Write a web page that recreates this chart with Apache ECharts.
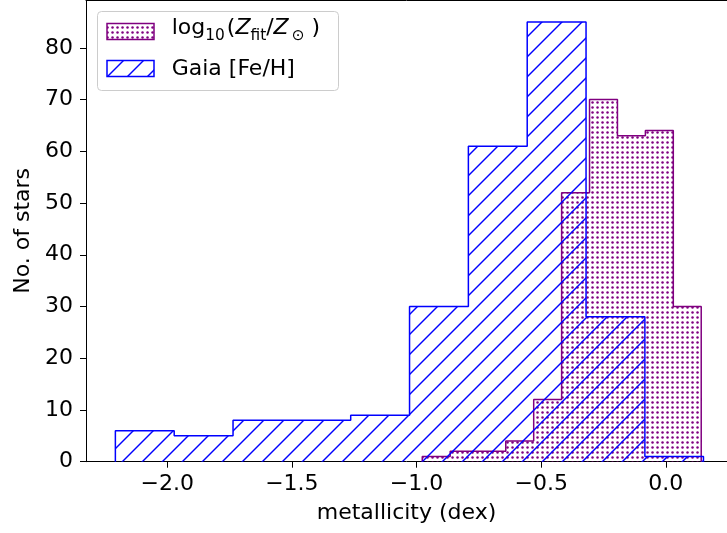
<!DOCTYPE html>
<html><head><meta charset="utf-8">
<script src="https://cdn.jsdelivr.net/npm/echarts@6/dist/echarts.min.js"></script>
<style>html,body{margin:0;padding:0;background:#fff}#c{width:727px;height:533px}</style>
</head><body><div id="c"></div>
<script>
// ---- data ----
const gaiaEdges  = [-2.208, -1.972, -1.736, -1.500, -1.264, -1.028, -0.792, -0.556, -0.320, -0.084, 0.151];
const gaiaCounts = [6, 5, 8, 8, 9, 30, 61, 85, 28, 1];
const zfitEdges  = [-0.977, -0.865, -0.753, -0.642, -0.530, -0.418, -0.306, -0.194, -0.082, 0.030, 0.142];
const zfitCounts = [1, 2, 2, 4, 12, 52, 70, 63, 64, 30];
const xTicks = [-2.0, -1.5, -1.0, -0.5, 0.0];
const yTicks = [0, 10, 20, 30, 40, 50, 60, 70, 80];
const xRange = [-2.3258, 0.2454];
const yRange = [0, 89.25];

function outline(edges, counts) {
  const pts = [[edges[0], 0]];
  for (let i = 0; i < counts.length; i++) {
    pts.push([edges[i], counts[i]], [edges[i + 1], counts[i]]);
  }
  pts.push([edges[edges.length - 1], 0]);
  return pts;
}
function dotCanvas() {
  const c = document.createElement('canvas'); c.width = 5; c.height = 5;
  const g = c.getContext('2d'); g.fillStyle = '#800080';
  g.beginPath(); g.arc(2.5, 2.5, 1.25, 0, Math.PI * 2); g.fill();
  return c;
}
function hatchCanvas() {
  const s = 20; const c = document.createElement('canvas'); c.width = s; c.height = s;
  const g = c.getContext('2d'); g.strokeStyle = '#0000ff'; g.lineWidth = 1.4;
  [-16, 4, 24, 44].forEach(k => { g.beginPath(); g.moveTo(k + 6, -6); g.lineTo(-6, k + 6); g.stroke(); });
  return c;
}
const dots = dotCanvas(), hatch = hatchCanvas();
const FONT = 'DejaVu Sans';
const FS = 22;
const SUB = 15.4;
const fmtX = v => (v < 0 ? '\u2212' + Math.abs(v).toFixed(1) : v.toFixed(1));

// legend label pieces (mathtext-like layout)
const mctx = document.createElement('canvas').getContext('2d');
function fontStr(fs, italic) { return (italic ? 'italic ' : '') + fs + 'px "' + FONT + '"'; }
function legendPieces(x0, base) {
  const parts = [
    ['log', FS, false, 0, 0], ['10', SUB, false, 6.5, 2], ['(', FS, false, 0, 0],
    ['Z', FS, true, 0, 0], ['fit', SUB, false, 6.5, 0], ['/', FS, false, 0, 0],
    ['Z', FS, true, 0, 3], ['\u2299', SUB, false, 6.5, 7], [')', FS, false, 0, 0]
  ];
  const out = []; let x = x0;
  parts.forEach(p => {
    const [t, fs, it, drop, gapAfter] = p;
    mctx.font = fontStr(fs, it);
    const w = mctx.measureText(t).width;
    out.push({type: 'text', x: x, y: base + drop - 0.3 * fs, z: 102,
      style: {text: t, fill: '#000', font: fontStr(fs, it), verticalAlign: 'middle', align: 'left'}});
    x += w + gapAfter;
  });
  return out;
}

const chart = echarts.init(document.getElementById('c'), null, {renderer: 'canvas'});
chart.setOption({
  animation: false,
  grid: {left: 86, top: 0, right: 0, height: 461.7, show: false, containLabel: false},
  xAxis: [{
    type: 'value', min: xRange[0], max: xRange[1],
    splitLine: {show: false},
    axisLine: {onZero: false, lineStyle: {color: '#000', width: 1}},
    axisTick: {customValues: xTicks, length: 6, lineStyle: {color: '#000', width: 1}},
    axisLabel: {customValues: xTicks, formatter: fmtX, fontSize: FS, fontFamily: FONT, color: '#000', margin: 12},
    name: 'metallicity (dex)', nameLocation: 'middle', nameGap: 41,
    nameTextStyle: {fontSize: FS, fontFamily: FONT, color: '#000'}
  }, {
    type: 'value', position: 'top', min: xRange[0], max: xRange[1],
    splitLine: {show: false}, axisTick: {show: false}, axisLabel: {show: false},
    axisLine: {show: true, onZero: false, lineStyle: {color: '#000', width: 1}}
  }],
  yAxis: {
    type: 'value', min: yRange[0], max: yRange[1],
    splitLine: {show: false},
    axisLine: {show: true, onZero: false, lineStyle: {color: '#000', width: 1}},
    axisTick: {show: true, customValues: yTicks, length: 6, lineStyle: {color: '#000', width: 1}},
    axisLabel: {customValues: yTicks, fontSize: FS, fontFamily: FONT, color: '#000', margin: 13},
    name: 'No. of stars', nameLocation: 'middle', nameGap: 51,
    nameTextStyle: {fontSize: FS, fontFamily: FONT, color: '#000'}
  },
  series: [
    {name: 'log10(Zfit/Zsun)', type: 'line', data: outline(zfitEdges, zfitCounts), symbol: 'none', silent: true, z: 2,
     lineStyle: {color: '#800080', width: 1.5},
     areaStyle: {color: {image: dots, repeat: 'repeat'}, opacity: 1}},
    {name: 'Gaia [Fe/H]', type: 'line', data: outline(gaiaEdges, gaiaCounts), symbol: 'none', silent: true, z: 3,
     lineStyle: {color: '#0000ff', width: 1.5},
     areaStyle: {color: {image: hatch, repeat: 'repeat'}, opacity: 1}}
  ],
  graphic: [
    {type: 'rect', z: 100, shape: {x: 97.5, y: 11.5, width: 241, height: 79, r: 4},
     style: {fill: 'rgba(255,255,255,0.8)', stroke: '#cccccc', lineWidth: 1}},
    {type: 'rect', z: 101, shape: {x: 107, y: 23.5, width: 47, height: 16},
     style: {fill: {image: dots, repeat: 'repeat'}, stroke: '#800080', lineWidth: 1.5}},
    {type: 'rect', z: 101, shape: {x: 107, y: 60.5, width: 47, height: 16},
     style: {fill: {image: hatch, repeat: 'repeat'}, stroke: '#0000ff', lineWidth: 1.5}},
    ...legendPieces(171.7, 34.5),
    {type: 'text', x: 171.7, y: 76 - 0.3 * FS, z: 102,
     style: {text: 'Gaia [Fe/H]', fill: '#000', font: fontStr(FS, false), verticalAlign: 'middle', align: 'left'}}
  ]
});
</script></body></html>
